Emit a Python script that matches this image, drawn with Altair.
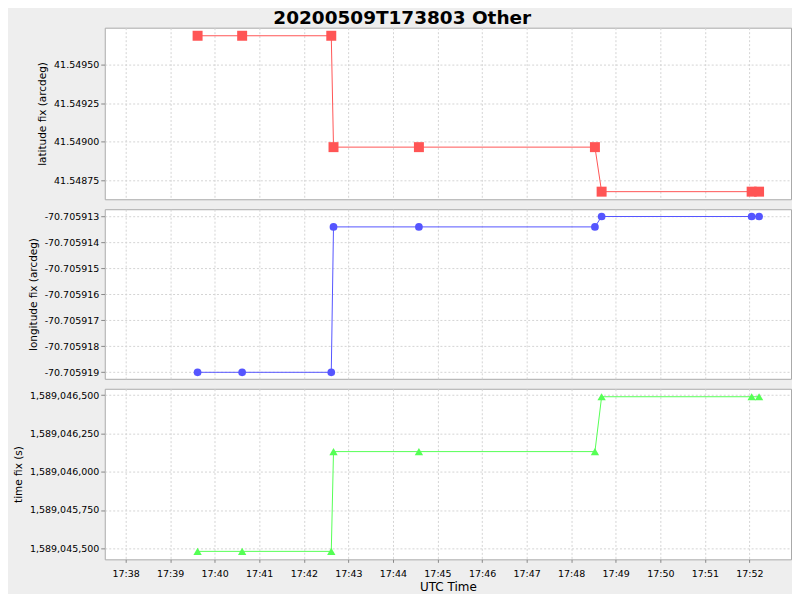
import altair as alt
import pandas as pd

times = ["2020-05-09T17:39:37Z", "2020-05-09T17:40:37Z", "2020-05-09T17:42:37Z",
         "2020-05-09T17:42:40Z", "2020-05-09T17:44:35Z", "2020-05-09T17:48:32Z",
         "2020-05-09T17:48:41Z", "2020-05-09T17:52:03Z", "2020-05-09T17:52:13Z"]
latitude = [41.549684, 41.549684, 41.549684, 41.548966, 41.548966, 41.548966,
            41.548679, 41.548679, 41.548679]
longitude = [-70.705919, -70.705919, -70.705919, -70.7059134, -70.7059134, -70.7059134,
             -70.705913, -70.705913, -70.705913]
time_fix = [1589045480, 1589045480, 1589045480, 1589046131, 1589046131, 1589046131,
            1589046489, 1589046489, 1589046489]
minute_ticks = list(range(38, 53))

df = pd.DataFrame({"t": times, "lat": latitude, "lon": longitude, "tfix": time_fix})

FONT = "DejaVu Sans"
LBL = 9.5
YTITLE = 10.5


def dt(m, s=0):
    return alt.DateTime(year=2020, month=5, date=9, hours=17, minutes=m, seconds=s, utc=True)


xdom = [dt(37, 32), dt(52, 56)]
xticks = [dt(m) for m in minute_ticks]
grid_kw = dict(grid=True, gridColor="#d4d4d4", gridDash=[2, 2], gridWidth=1)


def x_enc(show):
    if show:
        ax = alt.Axis(format="%H:%M", values=xticks, title="UTC Time", labelFont=FONT,
                      titleFont=FONT, labelFontSize=LBL, titleFontSize=12, titleFontWeight="normal",
                      labelColor="black", titleColor="black", domain=False, tickColor="#888888",
                      tickSize=3, labelPadding=6, titlePadding=4, **grid_kw)
    else:
        ax = alt.Axis(format="%H:%M", values=xticks, title=None, labels=False,
                      ticks=False, domain=False, **grid_kw)
    return alt.X("t:T", scale=alt.Scale(type="utc", domain=xdom), axis=ax)


def panel(field, title, fmt, dom, ticks, color, shape, size, height, show_x):
    y = alt.Y(f"{field}:Q", scale=alt.Scale(domain=dom, zero=False, nice=False),
              axis=alt.Axis(title=title, format=fmt, values=ticks, labelFont=FONT,
                            labelExpr="replace(datum.label, '\u2212', '-')",
                            titleFont=FONT, labelFontSize=LBL, titleFontSize=YTITLE,
                            titleFontWeight="normal", labelColor="black", titleColor="black",
                            domain=False, tickColor="#888888", tickSize=4, labelPadding=2,
                            titlePadding=6, **grid_kw))
    base = alt.Chart(df).encode(x=x_enc(show_x), y=y)
    line = base.mark_line(color=color, strokeWidth=1)
    pts = base.mark_point(shape=shape, filled=True, color=color, opacity=1, size=size)
    return alt.layer(line, pts).properties(width=688, height=height)


p1 = panel("lat", "latitude fix (arcdeg)", ".5f", [41.54863, 41.549736],
           [41.54875, 41.549, 41.54925, 41.5495], "#FF5555", "square", 100, 172, False)
p2 = panel("lon", "longitude fix (arcdeg)", ".6f", [-70.70591925, -70.70591272],
           [-70.705919, -70.705918, -70.705917, -70.705916, -70.705915, -70.705914, -70.705913],
           "#5555FF", "circle", 60, 170, False)
p3 = panel("tfix", "time fix (s)", ",d", [1589045428, 1589046541],
           [1589045500, 1589045750, 1589046000, 1589046250, 1589046500],
           "#55FF55", "triangle-up", 70, 171, True)

chart = alt.vconcat(p1, p2, p3, spacing=8).properties(
    title=alt.TitleParams(text="20200509T173803 Other", font=FONT, fontSize=18.5, fontWeight="bold",
                          color="black", anchor="middle", offset=-0.5),
    background="#EEEEEE",
    padding={"left": 4, "top": 0, "right": 0, "bottom": 0},
).configure_view(stroke="#aaaaaa", strokeWidth=1, fill="white")

chart.save("out.html", embed_options={"renderer": "svg", "actions": False})
